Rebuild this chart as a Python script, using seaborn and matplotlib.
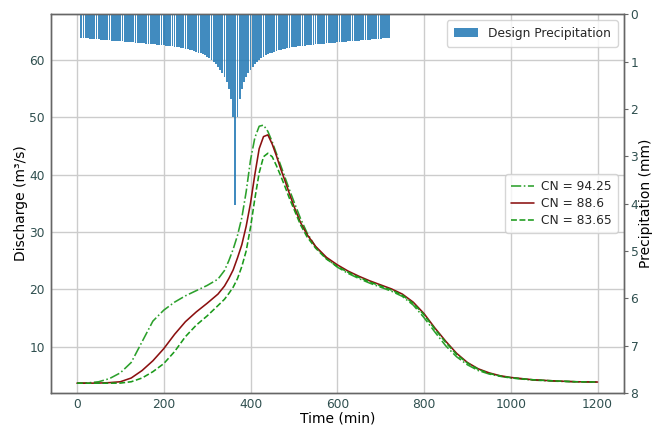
import numpy as np
import pandas as pd
import matplotlib
matplotlib.use("Agg")
import matplotlib.pyplot as plt
import seaborn as sns

# ---------------- data ----------------
rain_time = list(range(10, 725, 5))
rain_rising = [
    0.501, 0.505, 0.509, 0.513, 0.517, 0.521, 0.525, 0.529, 0.533, 0.537,
    0.541, 0.545, 0.549, 0.553, 0.557, 0.561, 0.565, 0.569, 0.573, 0.577,
    0.581, 0.585, 0.589, 0.593, 0.597, 0.601, 0.605, 0.609, 0.613, 0.617,
    0.621, 0.625, 0.630, 0.635, 0.640, 0.645, 0.650, 0.655, 0.660, 0.665,
    0.670, 0.675, 0.680, 0.685, 0.690, 0.700, 0.710, 0.720, 0.730, 0.740,
    0.750, 0.760, 0.775, 0.790, 0.810, 0.830, 0.850, 0.870, 0.900, 0.930,
    0.970, 1.010, 1.060, 1.110, 1.170, 1.240, 1.330, 1.440, 1.580, 1.790,
    2.170,
]
rain_peak = [4.03]
rain_falling = [
    2.170, 1.790, 1.580, 1.440, 1.330, 1.240, 1.170, 1.110, 1.060, 1.010, 0.970,
    0.930, 0.900, 0.870, 0.850, 0.830, 0.810, 0.790, 0.775, 0.760, 0.750,
    0.740, 0.730, 0.720, 0.710, 0.700, 0.690, 0.685, 0.680, 0.675, 0.670,
    0.665, 0.660, 0.655, 0.650, 0.645, 0.640, 0.635, 0.630, 0.625, 0.621,
    0.617, 0.613, 0.609, 0.605, 0.601, 0.597, 0.593, 0.589, 0.585, 0.581,
    0.577, 0.573, 0.569, 0.565, 0.561, 0.557, 0.553, 0.549, 0.545, 0.541,
    0.537, 0.533, 0.529, 0.525, 0.521, 0.517, 0.513, 0.509, 0.505, 0.501,
]
rain_mm = rain_rising + rain_peak + rain_falling

time_min = [0, 25, 50, 75, 100, 125, 150, 175, 200, 225,
            250, 275, 300, 325, 340, 350, 360, 370, 380, 390,
            400, 410, 420, 430, 440, 450, 460, 470, 480, 490,
            500, 515, 530, 550, 575, 600, 625, 650, 675, 700,
            725, 750, 775, 800, 825, 850, 875, 900, 925, 950,
            975, 1000, 1050, 1100, 1150, 1200]

q_cn9425 = [3.70, 3.75, 3.95, 4.5, 5.5, 7.3, 10.9, 14.5, 16.4, 17.8,
            18.9, 19.8, 20.7, 21.8, 23.3, 25.0, 27.0, 29.4, 32.5, 37.0,
            42.5, 46.4, 48.4, 48.6, 47.5, 45.7, 43.6, 41.5, 39.4, 37.3,
            35.3, 32.4, 29.9, 27.4, 25.4, 23.9, 22.8, 21.9, 21.1, 20.4,
            19.7, 18.8, 17.3, 15.1, 12.6, 10.2, 8.3, 6.9, 5.9, 5.3,
            4.9, 4.6, 4.25, 4.05, 3.95, 3.90]

q_cn886 = [3.70, 3.70, 3.72, 3.80, 3.95, 4.6, 5.9, 7.6, 9.7, 12.2,
           14.4, 16.1, 17.6, 19.2, 20.6, 21.9, 23.4, 25.5, 27.8, 31.0,
           35.0, 40.0, 44.5, 46.6, 46.9, 45.3, 43.2, 40.9, 38.8, 36.6,
           34.5, 31.7, 29.6, 27.5, 25.6, 24.3, 23.2, 22.3, 21.5, 20.8,
           20.1, 19.2, 17.8, 15.8, 13.3, 11.0, 8.9, 7.3, 6.2, 5.5,
           5.0, 4.7, 4.3, 4.1, 3.95, 3.90]

q_cn8365 = [3.70, 3.70, 3.70, 3.70, 3.72, 3.95, 4.6, 5.7, 7.1, 9.2,
            11.8, 13.8, 15.4, 17.2, 18.3, 19.3, 20.4, 21.9, 24.0, 26.7,
            30.8, 35.8, 40.3, 43.1, 43.7, 43.1, 41.5, 39.7, 37.8, 35.8,
            34.0, 31.3, 29.2, 27.2, 25.3, 24.0, 23.0, 22.1, 21.3, 20.6,
            19.9, 19.0, 17.6, 15.6, 13.1, 10.8, 8.7, 7.2, 6.1, 5.4,
            4.95, 4.65, 4.3, 4.1, 3.95, 3.90]

series_labels = ["CN = 94.25", "CN = 88.6", "CN = 83.65"]
x_ticks = [0, 200, 400, 600, 800, 1000, 1200]
y_ticks = [10, 20, 30, 40, 50, 60]
y2_ticks = [0, 1, 2, 3, 4, 5, 6, 7, 8]

# ---------------- style ----------------
sns.set_theme(style="whitegrid")
plt.rcParams['font.family'] = ['DejaVu Sans']
tick_col = '#2f4f4f'

fig = plt.figure(figsize=(6.53, 4.29), dpi=100)
ax1 = fig.add_axes([0.078, 0.084, 0.877, 0.883])

styles = [dict(color='#2ca02c', linestyle='-.'),
          dict(color='#8b1010', linestyle='-'),
          dict(color='#1a9a1a', linestyle='--')]
for q, lab, st in zip([q_cn9425, q_cn886, q_cn8365], series_labels, styles):
    sns.lineplot(x=time_min, y=q, ax=ax1, label=lab, linewidth=1.15, **st)

ax1.set_xlim(-60, 1260)
ax1.set_ylim(2.0, 67.9)
ax1.set_xticks(x_ticks)
ax1.set_yticks(y_ticks)
ax1.set_xlabel("Time (min)", fontsize=10, labelpad=0.5, color='black')
ax1.set_ylabel("Discharge (m³/s)", fontsize=10, labelpad=1, color='black')
ax1.tick_params(axis='y', labelsize=8.8, labelcolor=tick_col, length=0, pad=4.5)
ax1.tick_params(axis='x', labelsize=8.8, labelcolor=tick_col, length=0, pad=3.5)
ax1.grid(True, color='#cccccc', linewidth=1.0)
for s in ax1.spines.values():
    s.set_color('#666666')
    s.set_linewidth(1.0)
leg1 = ax1.legend(loc='center right', fontsize=8.8, frameon=True,
                  borderpad=0.45, handlelength=1.9, handletextpad=0.6,
                  labelspacing=0.35)
leg1.get_frame().set_edgecolor('#cccccc')

ax2 = ax1.twinx()
ax2.bar(rain_time, rain_mm, width=4.2, color='#1f77b4', alpha=0.85,
        label='Design Precipitation', linewidth=0)
ax2.set_ylim(8, 0)
ax2.set_yticks(y2_ticks)
ax2.grid(False)
ax2.set_ylabel("Precipitation (mm)", fontsize=10, labelpad=0.5, color='black')
ax2.tick_params(axis='y', labelsize=8.8, labelcolor=tick_col, length=3,
                width=0.8, color='#666666', pad=2)
for s in ax2.spines.values():
    s.set_color('#666666')
    s.set_linewidth(1.0)
leg2 = ax2.legend(loc='upper right', fontsize=8.8, frameon=True,
                  borderpad=0.55, handlelength=2.0)
leg2.get_frame().set_edgecolor('#cccccc')

fig.savefig("out.png", dpi=100)
